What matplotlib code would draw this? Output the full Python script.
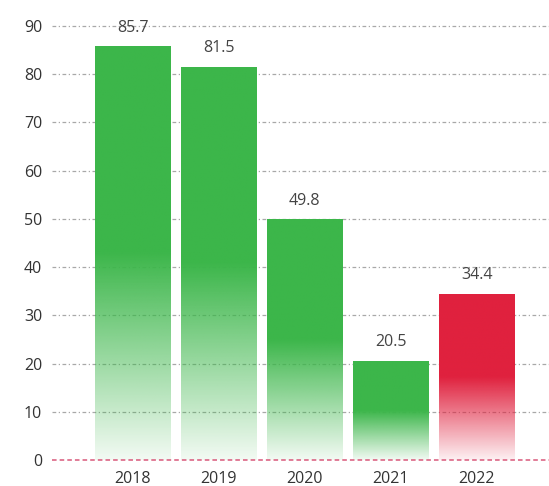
import matplotlib
matplotlib.use("Agg")
import matplotlib.pyplot as plt
import numpy as np
from matplotlib.colors import to_rgb

years = ["2018", "2019", "2020", "2021", "2022"]
values = [85.7, 81.5, 49.8, 20.5, 34.4]
labels = ["85.7", "81.5", "49.8", "20.5", "34.4"]
bar_colors = ["#3cb64a", "#3cb64a", "#3cb64a", "#3cb64a", "#e0213e"]
yticks = [0, 10, 20, 30, 40, 50, 60, 70, 80, 90]

plt.rcParams['font.family'] = ['Open Sans', 'DejaVu Sans']

fig = plt.figure(figsize=(5.49, 4.86), dpi=100)
ax = fig.add_axes([52/549, 26/486, 497/549, 460/486])
ax.set_xlim(-0.94, 4.84)
ax.set_ylim(0, 95.4)

width = 0.88
for i, (v, c) in enumerate(zip(values, bar_colors)):
    rgb = np.array(to_rgb(c))
    n = 200
    frac = np.linspace(0, 1, n)  # 0 bottom -> 1 top
    alpha = np.clip(frac / 0.5, 0, 1) * 0.93 + 0.07
    img = np.zeros((n, 1, 4))
    img[:, 0, :3] = rgb
    img[:, 0, 3] = alpha
    ax.imshow(img, extent=(i - width/2, i + width/2, 0, v), origin='lower',
              aspect='auto', zorder=2, interpolation='bilinear')
    ax.text(i, v + 2.3, labels[i], ha='center', va='bottom', fontsize=11.5, color='#444444', zorder=3)

ax.set_xlim(-0.94, 4.84)
ax.set_ylim(0, 95.4)

for y in yticks[1:]:
    ax.axhline(y, color='#a8a8a8', lw=0.9, linestyle=(0, (3, 2, 1, 2)), zorder=1)
ax.axhline(0, color='#d9587a', lw=1.1, linestyle=(0, (3, 2)), zorder=4, clip_on=False)

ax.set_yticks(yticks)
ax.set_yticklabels([str(t) for t in yticks], fontsize=11.5, color='#333333')
ax.set_xticks(range(len(years)))
ax.set_xticklabels(years, fontsize=11.5, color='#333333')
ax.tick_params(axis='x', length=0, pad=8)
ax.tick_params(axis='y', length=0, pad=7)
for s in ax.spines.values():
    s.set_visible(False)

fig.savefig("out.png", dpi=100)
